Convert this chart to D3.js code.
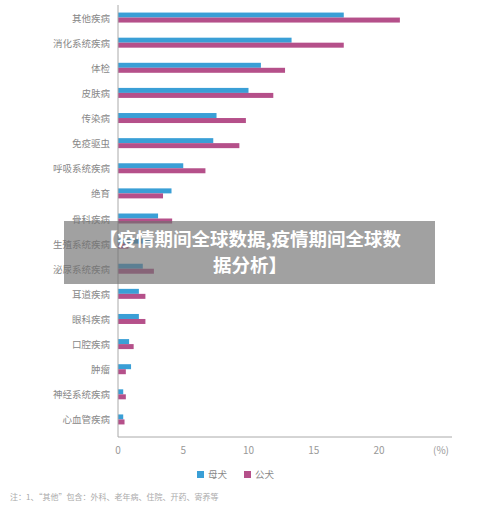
<!DOCTYPE html>
<html><head><meta charset="utf-8">
<script src="https://cdn.jsdelivr.net/npm/d3@7"></script>
<style>body{margin:0;background:#fff;font-family:"Noto Sans CJK SC","Noto Sans",sans-serif;}</style>
</head><body>
<svg id="chart" width="500" height="506"></svg>
<script>
const categories = ["其他疾病","消化系统疾病","体检","皮肤病","传染病","免疫驱虫","呼吸系统疾病","绝育","骨科疾病","生殖系统疾病","泌尿系统疾病","耳道疾病","眼科疾病","口腔疾病","肿瘤","神经系统疾病","心血管疾病"];
const female = [17.3,13.3,10.95,10.0,7.55,7.3,5.0,4.1,3.07,2.7,1.9,1.6,1.6,0.85,1.0,0.4,0.4];
const male = [21.6,17.3,12.8,11.9,9.8,9.3,6.7,3.45,4.15,0.8,2.75,2.1,2.1,1.2,0.6,0.6,0.5];
const xTicks = [0,5,10,15,20];
const seriesNames = ["母犬","公犬"];
const colors = ["#3a9fd6","#b5508a"];

const svg = d3.select("#chart");
const x = d3.scaleLinear().domain([0,20]).range([118,379]);
const y = d3.scaleBand().domain(categories).range([5,432]).paddingInner(0.6).paddingOuter(0.3);
const bh = 5;

categories.forEach((c,i)=>{
  [female[i],male[i]].forEach((v,j)=>{
    svg.append("rect").attr("x",x(0)).attr("y",y(c)+y.bandwidth()/2-bh+j*bh)
      .attr("width",x(v)-x(0)).attr("height",bh).attr("fill",colors[j]);
  });
  svg.append("text").attr("x",110).attr("y",y(c)+y.bandwidth()/2+4).attr("text-anchor","end")
    .attr("font-size",9.5).attr("fill","#888").text(c);
});

svg.append("line").attr("x1",118).attr("x2",118).attr("y1",5).attr("y2",437).attr("stroke","#aaa");
svg.append("line").attr("x1",118).attr("x2",452).attr("y1",437).attr("y2",437).attr("stroke","#aaa");
xTicks.forEach(t=>svg.append("text").attr("x",x(t)).attr("y",454).attr("text-anchor","middle")
  .attr("font-size",10).attr("fill","#999").text(t));
svg.append("text").attr("x",441).attr("y",454).attr("text-anchor","middle").attr("font-size",10).attr("fill","#999").text("(%)");

seriesNames.forEach((n,j)=>{
  const lx = 197 + j*47;
  svg.append("rect").attr("x",lx).attr("y",471).attr("width",7).attr("height",7).attr("fill",colors[j]);
  svg.append("text").attr("x",lx+11).attr("y",478).attr("font-size",9.5).attr("fill","#888").text(n);
});
svg.append("text").attr("x",10).attr("y",500).attr("font-size",8).attr("fill","#aaa")
  .text("注：1、“其他”包含：外科、老年病、住院、开药、寄养等");

svg.append("rect").attr("x",64).attr("y",221).attr("width",371).attr("height",63).attr("fill","rgba(110,110,110,0.65)");
svg.append("text").attr("x",250).attr("y",246).attr("text-anchor","middle").attr("font-size",18.5)
  .attr("font-weight","bold").attr("fill","#fff").text("【疫情期间全球数据,疫情期间全球数");
svg.append("text").attr("x",250).attr("y",272).attr("text-anchor","middle").attr("font-size",18.5)
  .attr("font-weight","bold").attr("fill","#fff").text("据分析】");
</script>
</body></html>
